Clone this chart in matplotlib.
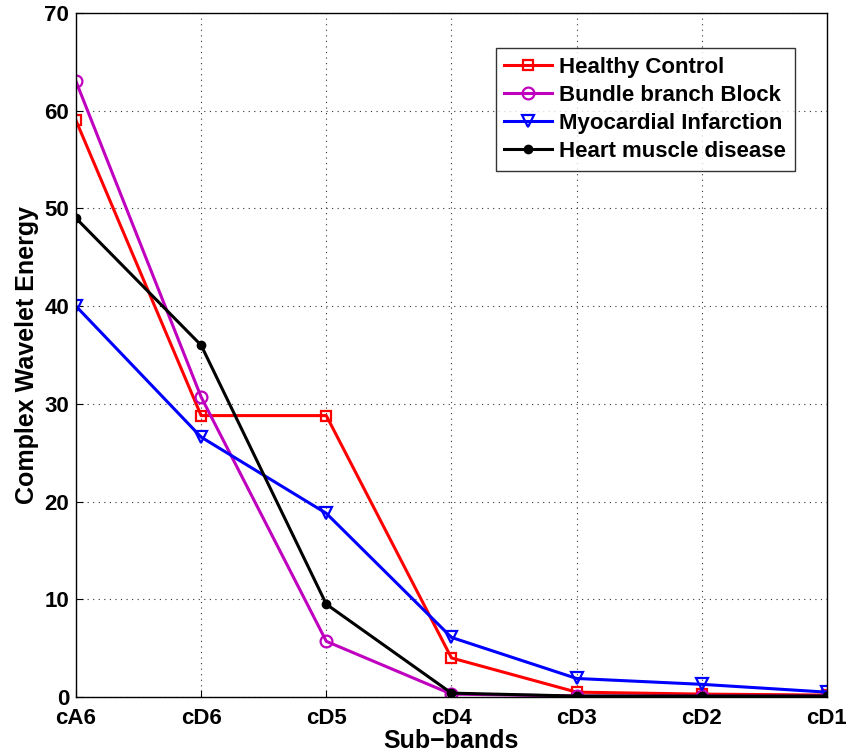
import numpy as np
import matplotlib.pyplot as plt

bands = ['cA6', 'cD6', 'cD5', 'cD4', 'cD3', 'cD2', 'cD1']
healthy = [59.0, 28.8, 28.8, 4.0, 0.5, 0.3, 0.2]
bbb = [63.0, 30.7, 5.7, 0.3, 0.1, 0.1, 0.1]
mi = [40.0, 26.6, 18.8, 6.1, 1.9, 1.3, 0.5]
hmd = [49.0, 36.0, 9.5, 0.4, 0.1, 0.1, 0.1]

plt.rcParams['font.family'] = ['Liberation Sans', 'DejaVu Sans']
plt.rcParams['font.weight'] = 'bold'

fig = plt.figure(figsize=(8.46, 7.56), dpi=100)
ax = fig.add_axes([0.0898, 0.078, 0.8877, 0.9048])

x = np.arange(len(bands))
lw = 2.2
ax.plot(x, healthy, color='red', lw=lw, marker='s', ms=7, mfc='none', mew=1.6, label='Healthy Control')
ax.plot(x, bbb, color='#bf00bf', lw=lw, marker='o', ms=8.5, mfc='none', mew=1.6, label='Bundle branch Block')
ax.plot(x, mi, color='blue', lw=lw, marker='v', ms=9, mfc='none', mew=1.6, label='Myocardial Infarction')
ax.plot(x, hmd, color='black', lw=lw, marker='o', ms=6, label='Heart muscle disease')

ax.set_xlim(0, 6)
ax.set_ylim(0, 70)
ax.set_xticks(x)
ax.set_xticklabels(bands)
ax.set_yticks(np.arange(0, 71, 10))
ax.tick_params(direction='in', labelsize=16, length=5)
ax.tick_params(axis='x', pad=8)
ax.tick_params(axis='y', pad=5)
ax.grid(True, linestyle=(0, (1, 4)), color='#333333', lw=0.8)
ax.set_axisbelow(True)
for s in ax.spines.values():
    s.set_linewidth(1.0)

ax.set_xlabel('Sub\u2212bands', fontsize=18, fontweight='bold', labelpad=0)
ax.set_ylabel('Complex Wavelet Energy', fontsize=18, fontweight='bold', labelpad=4)

leg = ax.legend(loc='upper right', bbox_to_anchor=(0.957, 0.949), borderaxespad=0,
                fontsize=16, frameon=True, fancybox=False, edgecolor='black',
                handlelength=2.15, borderpad=0.4, labelspacing=0.32, handletextpad=0.3)
leg.get_frame().set_linewidth(1.0)

fig.savefig('out.png', dpi=100)
